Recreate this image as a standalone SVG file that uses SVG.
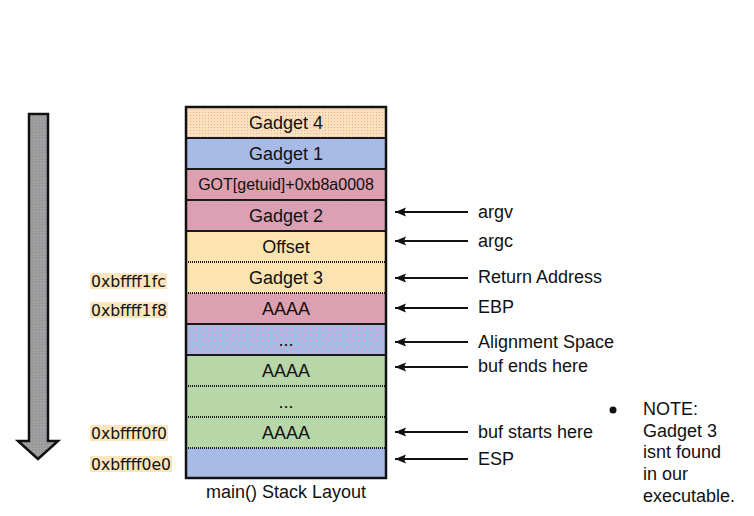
<svg xmlns="http://www.w3.org/2000/svg" width="754" height="516" viewBox="0 0 754 516">
<style>
.t{font-family:"Liberation Sans",Arial,sans-serif;font-size:18px;fill:#111}
.rt{font-family:"Liberation Sans",Arial,sans-serif;font-size:18px;fill:#111;text-anchor:middle}
.st{font-family:"Liberation Sans",Arial,sans-serif;font-size:16px;fill:#111;text-anchor:middle}
.ad{font-family:"DejaVu Sans",Verdana,sans-serif;font-size:15px;fill:#111}
.adbox{fill:#fde5bd}
.sep{stroke:#1a1a1a;stroke-width:2}
.dot{stroke:#1a1a1a;stroke-width:2;stroke-dasharray:1 1}
.conn{stroke:#111;stroke-width:2;fill:none}
</style>
<defs>
<pattern id="pOr" width="3" height="3" patternUnits="userSpaceOnUse">
<rect width="3" height="3" fill="#fbe2b8"/><rect x="1" y="1" width="1" height="1" fill="#e6a6b8"/>
</pattern>
<pattern id="pPk" width="3" height="3" patternUnits="userSpaceOnUse">
<rect width="3" height="3" fill="#dca0b0"/><rect x="1" y="1" width="1" height="1" fill="#c8a0c8"/>
</pattern>
<pattern id="pBl" width="3" height="3" patternUnits="userSpaceOnUse">
<rect width="3" height="3" fill="#a8bbe6"/><rect x="1" y="1" width="1" height="1" fill="#e0a0b8"/>
</pattern>
<pattern id="pGr" width="3" height="3" patternUnits="userSpaceOnUse">
<rect width="3" height="3" fill="#9c9c9c"/><rect x="1" y="1" width="1" height="1" fill="#b0a8c0"/><rect x="2" y="0" width="1" height="1" fill="#8a9a8a"/>
</pattern>
<marker id="ah" markerWidth="12" markerHeight="10" refX="11" refY="5" orient="auto" markerUnits="userSpaceOnUse">
<path d="M0,0.5 L11,5 L0,9.5 L2,5 Z" fill="#111"/>
</marker>
</defs>

<g id="direction-arrow">
<path d="M29,114 H48 V441 H58 L38,459 L18,441 H29 Z" fill="url(#pGr)" stroke="#111" stroke-width="2.5" stroke-linejoin="miter"/>
</g>

<g id="stack">
<g id="row-gadget4"><rect x="186" y="107" width="200" height="31" fill="url(#pOr)"/><text class="rt" x="286" y="129">Gadget 4</text></g>
<g id="row-gadget1"><rect x="186" y="138" width="200" height="31" fill="#a8bbe6"/><text class="rt" x="286" y="160">Gadget 1</text></g>
<g id="row-got"><rect x="186" y="169" width="200" height="31" fill="#dca0b0"/><text class="st" x="286" y="190">GOT[getuid]+0xb8a0008</text></g>
<g id="row-gadget2"><rect x="186" y="200" width="200" height="31" fill="url(#pPk)"/><text class="rt" x="286" y="222">Gadget 2</text></g>
<g id="row-offset"><rect x="186" y="231" width="200" height="31" fill="#fce4b0"/><text class="rt" x="286" y="253">Offset</text></g>
<g id="row-gadget3"><rect x="186" y="262" width="200" height="31" fill="#fce4b0"/><text class="rt" x="286" y="284">Gadget 3</text></g>
<g id="row-ebp"><rect x="186" y="293" width="200" height="31" fill="#dca0b0"/><text class="rt" x="286" y="315">AAAA</text></g>
<g id="row-align"><rect x="186" y="324" width="200" height="31" fill="url(#pBl)"/><text class="rt" x="286" y="346">...</text></g>
<g id="row-bufend"><rect x="186" y="355" width="200" height="31" fill="#b7d7a8"/><text class="rt" x="286" y="377">AAAA</text></g>
<g id="row-bufmid"><rect x="186" y="386" width="200" height="31" fill="#b7d7a8"/><text class="rt" x="286" y="408">...</text></g>
<g id="row-bufstart"><rect x="186" y="417" width="200" height="31" fill="#b7d7a8"/><text class="rt" x="286" y="439">AAAA</text></g>
<g id="row-esp"><rect x="186" y="448" width="200" height="30" fill="#a8bbe6"/></g>
<line class="sep" x1="186" y1="138" x2="386" y2="138"/>
<line class="sep" x1="186" y1="169" x2="386" y2="169"/>
<line class="sep" x1="186" y1="200" x2="386" y2="200"/>
<line class="sep" x1="186" y1="231" x2="386" y2="231"/>
<line class="dot" x1="186" y1="262" x2="386" y2="262"/>
<line class="dot" x1="186" y1="293" x2="386" y2="293"/>
<line class="sep" x1="186" y1="324" x2="386" y2="324"/>
<line class="sep" x1="186" y1="355" x2="386" y2="355"/>
<line class="dot" x1="186" y1="386" x2="386" y2="386"/>
<line class="dot" x1="186" y1="417" x2="386" y2="417"/>
<line class="dot" x1="186" y1="448" x2="386" y2="448" stroke="#555"/>
<rect x="186" y="107" width="200" height="371" fill="none" stroke="#111" stroke-width="2.5"/>
<text class="rt" x="286" y="498">main() Stack Layout</text>
</g>

<g id="addresses">
<g id="addr-1fc"><rect class="adbox" x="90" y="273" width="77" height="16"/><text class="ad" x="91" y="287" textLength="75" lengthAdjust="spacingAndGlyphs">0xbffff1fc</text></g>
<g id="addr-1f8"><rect class="adbox" x="90" y="302" width="78" height="16"/><text class="ad" x="91" y="316" textLength="76" lengthAdjust="spacingAndGlyphs">0xbffff1f8</text></g>
<g id="addr-0f0"><rect class="adbox" x="90" y="425" width="78" height="16"/><text class="ad" x="91" y="439" textLength="76" lengthAdjust="spacingAndGlyphs">0xbffff0f0</text></g>
<g id="addr-0e0"><rect class="adbox" x="90" y="456" width="82" height="16"/><text class="ad" x="91" y="470" textLength="80" lengthAdjust="spacingAndGlyphs">0xbffff0e0</text></g>
</g>

<g id="connectors">
<line class="conn" x1="468" y1="212" x2="395" y2="212" marker-end="url(#ah)"/>
<line class="conn" x1="468" y1="241" x2="395" y2="241" marker-end="url(#ah)"/>
<line class="conn" x1="468" y1="278" x2="395" y2="278" marker-end="url(#ah)"/>
<line class="conn" x1="468" y1="308" x2="395" y2="308" marker-end="url(#ah)"/>
<line class="conn" x1="468" y1="342" x2="395" y2="342" marker-end="url(#ah)"/>
<line class="conn" x1="468" y1="367" x2="395" y2="367" marker-end="url(#ah)"/>
<line class="conn" x1="468" y1="432" x2="395" y2="432" marker-end="url(#ah)"/>
<line class="conn" x1="468" y1="459" x2="395" y2="459" marker-end="url(#ah)"/>
</g>

<g id="labels">
<text class="t" x="478" y="218">argv</text>
<text class="t" x="478" y="247">argc</text>
<text class="t" x="478" y="283">Return Address</text>
<text class="t" x="478" y="313">EBP</text>
<text class="t" x="478" y="348">Alignment Space</text>
<text class="t" x="478" y="372">buf ends here</text>
<text class="t" x="478" y="438">buf starts here</text>
<text class="t" x="478" y="465">ESP</text>
</g>

<g id="note">
<circle cx="613" cy="410" r="3.5" fill="#111"/>
<text class="t" x="643" y="415">NOTE:</text>
<text class="t" x="643" y="437">Gadget 3</text>
<text class="t" x="643" y="458">isnt found</text>
<text class="t" x="643" y="480">in our</text>
<text class="t" x="643" y="502">executable.</text>
</g>
</svg>
